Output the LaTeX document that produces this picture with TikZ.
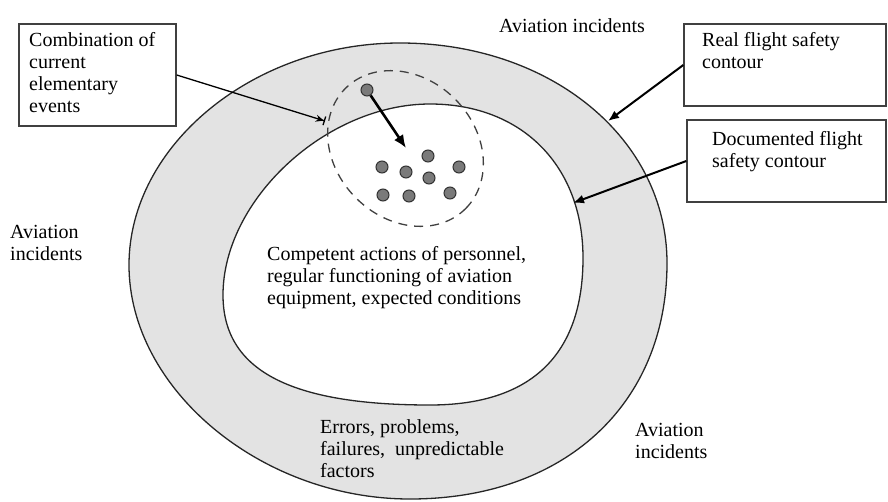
\documentclass[tikz,border=0pt]{standalone}
\usepackage{fontspec}
\setmainfont{Liberation Serif}
\usetikzlibrary{arrows.meta}
\begin{document}
\begin{tikzpicture}[x=1pt,y=-1pt,
  lbl/.style={anchor=north west, inner sep=0pt, align=left, font=\fontsize{20}{22}\selectfont},
  frame/.style={draw=black!75, line width=1.4pt, inner sep=0pt},
  contour/.style={draw=black!85, line width=1.3pt},
  dot/.style={circle, draw=black!80, fill=black!52, line width=1pt, minimum size=12pt, inner sep=0pt},
  pointer/.style={line width=2pt, -{Latex[length=11pt,width=9pt]}},
  bigpointer/.style={line width=2.6pt, -{Latex[length=13pt,width=11pt]}},
  thinpointer/.style={line width=1.3pt, -{Stealth[length=8pt,width=7pt]Bar[width=9pt,line width=1.3pt]}}
]
\useasboundingbox (0,0) rectangle (888,501);
% real flight safety contour (outer)
\draw[contour, fill=black!11]
  (400,43) .. controls (550.9,43) and (667,138.7) .. (667,263)
  .. controls (667,404.6) and (564.2,499) .. (410,499)
  .. controls (261.1,499) and (129,389) .. (129,265)
  .. controls (129,145.1) and (253.7,43) .. (400,43) -- cycle;
% documented flight safety contour (inner)
\draw[contour, fill=white]
  (430,104) .. controls (521.8,104) and (583,165.6) .. (583,258)
  .. controls (583,355) and (531,405) .. (430,405)
  .. controls (289.2,405) and (223,369.8) .. (223,295)
  .. controls (223,199.5) and (326.5,104) .. (430,104) -- cycle;
% combination of events (dashed)
\draw[draw=black!75, line width=1.3pt, dash pattern=on 9pt off 7pt]
  (405.5,148.5) ellipse [x radius=85pt, y radius=70pt, rotate=-45];
% dots
\node[dot] (d0) at (367,90) {};
\node[dot] (d1) at (428,156) {};
\node[dot] (d2) at (382,167) {};
\node[dot] (d3) at (406,172) {};
\node[dot] (d4) at (459,167) {};
\node[dot] (d5) at (429,178) {};
\node[dot] (d6) at (383,195) {};
\node[dot] (d7) at (409,196) {};
\node[dot] (d8) at (450,193) {};
\coordinate (c4) at (406,148);
\draw[bigpointer] (d0) -- (c4);
% boxes
\node[frame, minimum width=157pt, minimum height=102pt] (box1) at (97.5,75) {};
\node[frame, minimum width=202pt, minimum height=82pt] (box2) at (785,65) {};
\node[frame, minimum width=199pt, minimum height=82pt] (box3) at (786.5,161) {};
\node[lbl] (t1) at (29,32.5) {Combination of\\current\\elementary\\events};
\node[lbl] (t2) at (702,32) {Real flight safety\\contour};
\node[lbl] (t3) at (712,131) {Documented flight\\safety contour};
% connectors
\coordinate (c1) at (325,121);
\coordinate (c2) at (608,121);
\coordinate (c3) at (573,203);
\draw[thinpointer] (box1.east) -- (c1);
\draw[pointer] (box2.west) -- (c2);
\draw[pointer] (box3.west) -- (c3);
% other labels
\node[lbl] (a1) at (499,18) {Aviation incidents};
\node[lbl] (a2) at (10,225) {Aviation\\incidents};
\node[lbl] (a3) at (635,423) {Aviation\\incidents};
\node[lbl] (comp) at (267,246) {Competent actions of personnel,\\regular functioning of aviation\\equipment, expected conditions};
\node[lbl] (err) at (320,419) {Errors, problems,\\failures,\ \ unpredictable\\factors};
\end{tikzpicture}
\end{document}
